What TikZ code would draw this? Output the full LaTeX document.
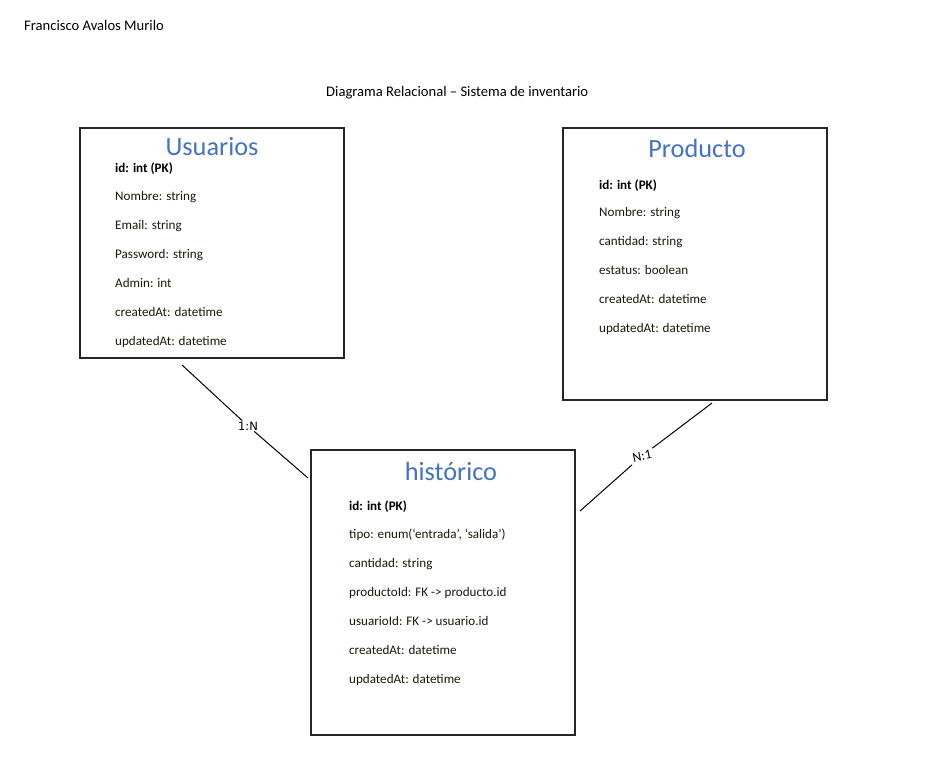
\documentclass[tikz,border=0pt]{standalone}
\usepackage{fontspec}
\setmainfont{Carlito}
\newfontfamily\dejavu{DejaVu Sans}
\definecolor{titleblue}{HTML}{4472C4}
\definecolor{fieldtxt}{HTML}{1A1A0A}
\begin{document}
\begin{tikzpicture}[x=1pt,y=-1pt,
  entity/.style={draw=black!85,line width=1.1pt},
  etitle/.style={text=titleblue,font=\fontsize{26.3}{30}\selectfont,inner sep=0pt,anchor=base},
  field/.style={text=fieldtxt,font=\fontsize{13.1}{15}\selectfont,inner sep=0pt,anchor=base west},
  keyfield/.style={field,text=black,font=\fontsize{13.1}{15}\selectfont\bfseries},
  rel/.style={line width=1pt},
  card/.style={font=\fontsize{13.5}{15}\selectfont,inner sep=1pt},
  plain/.style={font=\fontsize{14.6}{17}\selectfont,inner sep=0pt,anchor=base west}]
\useasboundingbox[fill=white] (0,0) rectangle (943,769);

\node[plain] (author) at (24,30) {Francisco Avalos Murilo};
\node[plain] (title) at (326,96) {Diagrama Relacional – Sistema de inventario};

% Usuarios
\draw[entity] (80,128) rectangle (344,358);
\node[etitle] (tu) at (212,155) {Usuarios};
\node[keyfield] (u1) at (115,172) {id: int (PK)};
\node[field] (u2) at (115,200) {Nombre: string};
\node[field] (u3) at (115,229) {Email: string};
\node[field] (u4) at (115,258) {Password: string};
\node[field] (u5) at (115,287) {Admin: int};
\node[field] (u6) at (115,316) {createdAt: datetime};
\node[field] (u7) at (115,345) {updatedAt: datetime};

% Producto
\draw[entity] (563,128) rectangle (827,400);
\node[etitle] (tp) at (697,157) {Producto};
\node[keyfield] (p1) at (599,189) {id: int (PK)};
\node[field] (p2) at (599,216) {Nombre: string};
\node[field] (p3) at (599,245) {cantidad: string};
\node[field] (p4) at (599,274) {estatus: boolean};
\node[field] (p5) at (599,303) {createdAt: datetime};
\node[field] (p6) at (599,332) {updatedAt: datetime};

% historico
\draw[entity] (311,450) rectangle (575,735);
\node[etitle] (th) at (451,480) {histórico};
\node[keyfield] (h1) at (349,510) {id: int (PK)};
\node[field] (h2) at (349,538) {tipo: enum(‘entrada’, ‘salida’)};
\node[field] (h3) at (349,567) {cantidad: string};
\node[field] (h4) at (349,596) {productoId: FK -> producto.id};
\node[field] (h5) at (349,625) {usuarioId: FK -> usuario.id};
\node[field] (h6) at (349,654) {createdAt: datetime};
\node[field] (h7) at (349,683) {updatedAt: datetime};

% relations
\coordinate (ua) at (182,365);
\coordinate (ub) at (308,478);
\node[card,font=\dejavu\fontsize{11.5}{14}\selectfont] (c1) at (248,426) {1:N};
\draw[rel] (ua) -- (c1) -- (ub);

\coordinate (pa) at (712,403);
\coordinate (pb) at (580,511);
\node[card,rotate=12,inner sep=2pt] (c2) at (642,456) {N:1};
\draw[rel] (pa) -- (c2) -- (pb);
\end{tikzpicture}
\end{document}
